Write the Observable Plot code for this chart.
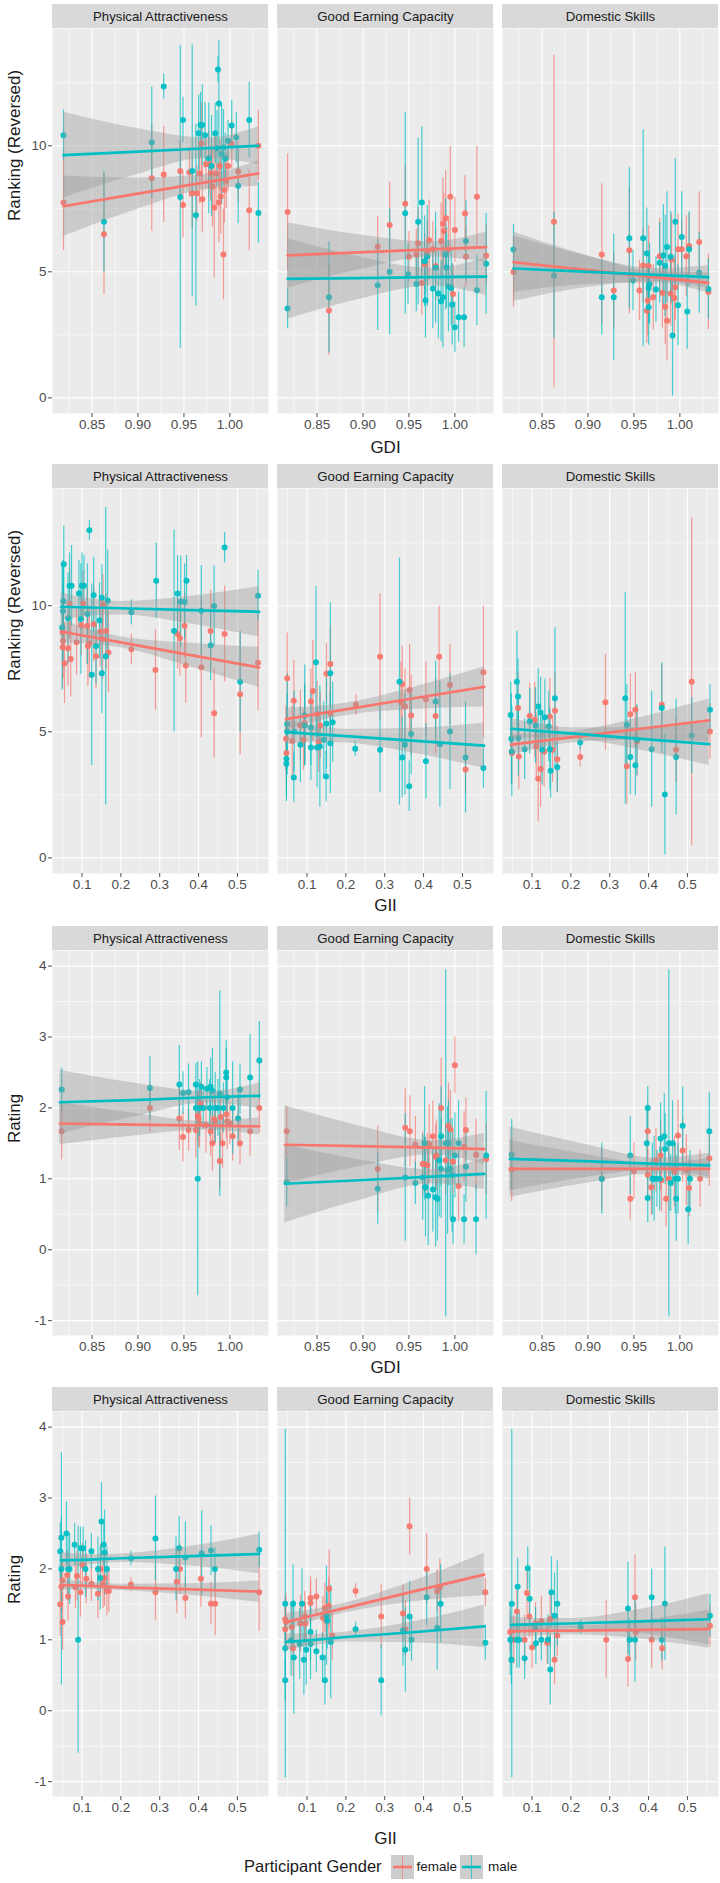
<!DOCTYPE html>
<html><head><meta charset="utf-8">
<script src="https://cdn.jsdelivr.net/npm/d3@7"></script>
<script src="https://cdn.jsdelivr.net/npm/@observablehq/plot@0.6"></script>
<style>
body{margin:0;background:#fff;font-family:"Liberation Sans",Arial,sans-serif;}
#root{width:720px;}
#root svg{display:block;overflow:visible;}
#legend{display:flex;align-items:center;height:33px;padding-left:244px;color:#1a1a1a;}
</style></head><body><div id="root"></div>
<script>
// ---------- categories & ticks ----------
const traits = ["Physical Attractiveness", "Good Earning Capacity", "Domestic Skills"];
const genders = ["female", "male"];
const genderColors = ["#F8766D", "#00BFC4"];
const gdiTicks = [0.85, 0.90, 0.95, 1.00];
const gdiMinor = [0.825, 0.875, 0.925, 0.975, 1.025];
const giiTicks = [0.1, 0.2, 0.3, 0.4, 0.5];
const giiMinor = [0.05, 0.15, 0.25, 0.35, 0.45, 0.55];
const rankTicks = [0, 5, 10];
const rankMinor = [2.5, 7.5, 12.5];
const ratingTicks = [-1, 0, 1, 2, 3, 4];
const ratingMinor = [-0.5, 0.5, 1.5, 2.5, 3.5];
const gdiDomain = [0.807, 1.042];
const giiDomain = [0.024, 0.58];
const rankDomain = [-0.62, 14.65];
const ratingDomain = [-1.21, 4.22];

// ---------- country means [x, y, errorbar half-length] ----------
// Row 1: GDI vs Ranking
const r1PA_f = [[0.819,7.75,1.9],[0.863,6.49,2.4],[0.915,8.71,2.1],[0.928,8.86,1.9],[0.946,9.0,1.2],[0.949,7.65,1.3],[0.956,8.95,1.0],[0.959,8.12,1.4],[0.964,8.12,1.1],[0.967,8.9,1.2],[0.969,10.09,1.6],[0.970,7.88,1.3],[0.974,9.27,1.0],[0.977,9.27,1.3],[0.979,8.9,1.1],[0.981,8.38,1.6],[0.983,7.55,2.8],[0.985,8.9,1.5],[0.988,7.75,1.6],[0.989,9.2,1.0],[0.990,7.99,1.5],[0.993,5.69,1.8],[0.994,8.24,1.3],[0.996,8.6,1.1],[0.998,9.2,1.0],[1.002,10.07,1.0],[1.009,8.98,1.2],[1.021,7.44,1.6],[1.031,10.0,1.4]];
const r1PA_m = [[0.819,10.42,1.0],[0.863,6.99,2.0],[0.915,10.13,2.2],[0.928,12.35,0.5],[0.946,7.97,6.0],[0.949,11.02,0.9],[0.959,9.0,5.0],[0.963,7.24,3.6],[0.966,10.5,1.5],[0.968,10.82,1.3],[0.970,10.82,1.6],[0.973,10.42,1.3],[0.977,9.5,2.2],[0.980,9.2,2.0],[0.984,10.5,1.2],[0.986,9.9,1.5],[0.987,13.02,0.5],[0.988,11.68,2.5],[0.991,9.67,2.0],[0.993,9.93,1.5],[0.995,9.5,1.0],[0.998,10.2,0.8],[1.002,10.8,1.0],[1.007,10.33,1.0],[1.009,8.41,1.5],[1.021,11.02,1.5],[1.031,7.33,1.2]];
const r1GEC_f = [[0.818,7.37,2.3],[0.863,3.47,1.8],[0.916,5.99,1.2],[0.929,6.86,1.7],[0.946,7.7,1.5],[0.950,5.6,1.0],[0.958,5.69,1.0],[0.960,6.13,1.4],[0.964,4.56,1.3],[0.967,5.29,1.2],[0.970,5.8,1.3],[0.972,6.25,1.6],[0.976,5.89,1.1],[0.979,5.23,1.4],[0.985,6.22,1.5],[0.987,6.91,1.8],[0.988,6.62,1.5],[0.990,7.12,1.9],[0.993,5.89,1.3],[0.995,7.98,2.0],[0.998,4.12,1.2],[1.000,6.66,1.3],[1.011,7.31,1.5],[1.012,5.6,1.2],[1.024,7.98,2.0],[1.034,5.65,1.2]];
const r1GEC_m = [[0.818,3.54,0.8],[0.863,3.99,2.2],[0.916,4.47,1.8],[0.929,5.0,2.5],[0.946,7.32,4.0],[0.949,4.9,1.2],[0.958,4.52,1.1],[0.960,6.99,3.3],[0.964,7.75,3.0],[0.967,5.42,1.8],[0.968,3.86,1.5],[0.970,5.62,2.0],[0.976,4.34,1.6],[0.979,5.16,2.2],[0.982,4.14,1.8],[0.985,3.83,1.6],[0.987,3.99,2.0],[0.990,5.69,2.2],[0.991,5.16,1.6],[0.993,4.43,1.8],[0.996,4.36,1.5],[0.997,3.7,1.6],[1.000,2.8,1.0],[1.004,3.2,1.0],[1.010,3.2,1.2],[1.012,6.22,1.6],[1.024,4.27,1.4],[1.034,5.32,2.0]];
const r1DS_f = [[0.819,4.99,1.4],[0.863,6.99,6.6],[0.915,5.69,2.8],[0.928,4.26,1.5],[0.945,5.85,2.5],[0.956,4.26,1.2],[0.960,5.25,1.5],[0.964,3.46,1.3],[0.965,3.86,1.4],[0.966,5.23,1.6],[0.971,3.99,1.3],[0.978,5.62,1.5],[0.981,4.16,1.4],[0.984,3.61,1.5],[0.986,3.06,1.6],[0.990,4.14,1.3],[0.991,5.49,1.8],[0.994,3.96,1.5],[0.995,4.39,1.3],[0.998,5.89,1.4],[1.002,5.89,1.2],[1.007,5.62,1.6],[1.010,6.02,1.3],[1.021,6.18,2.0],[1.031,4.2,1.5]];
const r1DS_m = [[0.819,5.88,1.0],[0.863,4.85,2.5],[0.915,3.99,1.5],[0.928,3.99,2.5],[0.945,6.33,2.8],[0.949,4.66,1.2],[0.960,6.33,4.3],[0.964,5.73,1.8],[0.966,4.36,1.4],[0.966,3.59,1.5],[0.967,4.52,1.6],[0.974,4.3,1.3],[0.978,5.36,1.6],[0.982,5.66,2.0],[0.984,5.23,2.0],[0.986,5.98,2.2],[0.990,5.6,1.8],[0.992,2.47,2.4],[0.995,6.99,2.5],[0.998,3.67,1.6],[1.002,6.38,1.8],[1.008,3.43,1.5],[1.010,5.89,1.5],[1.021,4.96,1.6],[1.031,4.32,1.2]];
// Row 2: GII vs Ranking
const r2PA_f = [[0.050,8.94,1.8],[0.051,8.6,1.5],[0.050,8.35,1.6],[0.055,7.72,1.6],[0.064,8.31,1.5],[0.071,7.89,1.5],[0.068,10.07,1.4],[0.086,8.55,1.3],[0.098,9.23,1.2],[0.103,10.09,1.3],[0.113,9.2,1.5],[0.115,8.4,1.6],[0.119,8.51,1.4],[0.130,9.27,1.5],[0.136,8.0,1.3],[0.147,8.97,1.4],[0.153,8.68,1.6],[0.154,10.03,1.2],[0.162,9.0,1.5],[0.168,8.15,1.6],[0.227,8.27,0.6],[0.289,7.45,1.6],[0.346,8.88,1.4],[0.352,8.71,1.5],[0.364,9.21,1.3],[0.367,7.63,1.5],[0.407,7.56,2.8],[0.431,9.0,1.6],[0.440,5.74,1.8],[0.467,8.88,1.9],[0.507,6.49,2.4],[0.553,7.74,1.9]];
const r2PA_m = [[0.052,10.18,1.4],[0.053,11.65,1.5],[0.051,9.79,2.0],[0.049,9.14,2.5],[0.064,9.5,1.8],[0.068,10.79,1.3],[0.073,10.79,1.6],[0.092,10.49,1.3],[0.097,9.47,2.2],[0.100,10.79,1.3],[0.105,10.79,1.2],[0.114,9.67,2.0],[0.119,12.99,0.4],[0.125,7.26,3.6],[0.130,10.42,1.5],[0.136,8.4,1.5],[0.145,9.41,1.5],[0.151,10.32,1.3],[0.151,7.32,1.6],[0.161,8.0,5.9],[0.166,10.2,2.0],[0.227,9.74,0.5],[0.291,10.99,1.5],[0.337,9.0,4.0],[0.346,10.49,1.5],[0.354,10.16,1.8],[0.364,10.16,1.5],[0.369,10.99,1.0],[0.407,9.8,1.8],[0.431,8.42,1.4],[0.440,9.99,1.6],[0.467,12.31,0.6],[0.507,6.99,2.0],[0.553,10.4,1.0]];
const r2GEC_f = [[0.049,7.12,1.8],[0.046,4.72,1.3],[0.047,4.16,1.2],[0.066,6.23,1.6],[0.062,4.64,1.4],[0.083,5.25,1.4],[0.091,4.68,1.2],[0.094,5.34,1.6],[0.110,6.2,1.3],[0.115,6.62,2.0],[0.126,5.7,1.3],[0.130,4.59,1.2],[0.134,5.25,1.3],[0.150,7.3,1.2],[0.160,7.69,1.5],[0.160,5.74,1.2],[0.226,6.07,0.4],[0.288,7.98,2.5],[0.342,6.17,1.6],[0.345,6.89,1.5],[0.352,6.0,1.5],[0.364,6.66,1.8],[0.368,5.65,1.6],[0.406,6.29,1.5],[0.431,5.63,1.5],[0.440,7.98,2.0],[0.468,6.86,1.6],[0.508,3.5,1.0],[0.554,7.36,2.6]];
const r2GEC_m = [[0.047,3.93,1.5],[0.047,3.73,1.5],[0.049,5.3,2.0],[0.049,5.01,1.5],[0.066,3.19,1.0],[0.067,5.01,1.6],[0.083,4.49,1.5],[0.094,5.65,2.0],[0.094,5.25,1.6],[0.110,4.38,1.3],[0.110,5.17,1.5],[0.123,7.76,3.0],[0.126,4.38,1.6],[0.133,4.42,2.4],[0.143,4.68,1.5],[0.149,3.23,1.0],[0.150,5.32,1.8],[0.160,7.32,2.8],[0.160,4.55,2.0],[0.166,5.38,1.6],[0.224,4.33,0.3],[0.288,4.29,1.7],[0.338,6.99,4.9],[0.345,3.98,1.6],[0.352,4.49,2.0],[0.363,2.84,1.0],[0.368,4.91,1.6],[0.406,3.83,1.5],[0.431,6.2,1.6],[0.442,4.51,2.5],[0.468,5.01,2.3],[0.508,3.98,2.2],[0.554,3.56,0.8]];
const r2DS_f = [[0.048,4.16,1.2],[0.064,5.94,1.4],[0.066,4.02,1.3],[0.094,5.63,1.3],[0.107,5.47,1.5],[0.111,4.42,1.3],[0.116,3.14,1.7],[0.122,3.52,1.5],[0.131,4.22,1.4],[0.146,5.61,1.5],[0.153,4.29,1.3],[0.159,5.84,1.5],[0.165,3.91,1.3],[0.224,4.0,0.4],[0.289,6.17,1.9],[0.344,3.63,1.5],[0.353,5.7,1.6],[0.366,5.87,1.5],[0.370,4.62,1.4],[0.434,6.07,1.6],[0.471,4.29,1.3],[0.511,6.99,6.5],[0.558,5.01,1.1]];
const r2DS_m = [[0.045,5.67,1.3],[0.047,4.72,1.8],[0.048,4.22,1.8],[0.061,6.99,2.0],[0.064,6.4,1.5],[0.065,4.75,1.5],[0.081,4.31,1.2],[0.094,5.41,1.3],[0.109,5.25,1.5],[0.116,6.0,1.5],[0.122,5.77,1.4],[0.126,4.29,1.4],[0.133,5.58,1.5],[0.143,5.21,1.4],[0.146,4.31,1.6],[0.148,3.46,1.1],[0.159,6.33,2.8],[0.165,3.59,1.0],[0.224,4.58,0.3],[0.340,6.33,4.2],[0.344,5.28,1.6],[0.353,4.0,1.5],[0.366,3.67,1.2],[0.370,4.68,1.4],[0.408,4.31,2.3],[0.434,5.94,1.8],[0.442,2.51,2.4],[0.471,4.0,2.3],[0.511,4.85,1.5],[0.558,5.87,1.0]];
// Row 3: GDI vs Rating
const r3PA_f = [[0.817,1.67,0.4],[0.913,2.0,0.35],[0.945,1.85,0.45],[0.949,1.59,0.35],[0.955,1.69,0.3],[0.963,1.69,0.4],[0.965,1.89,0.35],[0.966,1.85,0.4],[0.967,1.78,0.35],[0.968,2.06,0.3],[0.974,1.76,0.4],[0.979,1.67,0.35],[0.981,1.5,0.4],[0.983,1.84,0.35],[0.984,1.81,0.3],[0.989,1.25,0.4],[0.990,1.87,0.35],[0.992,1.5,0.35],[0.996,1.91,0.35],[0.997,1.81,0.4],[1.000,1.78,0.3],[1.003,1.6,0.35],[1.009,1.85,0.3],[1.011,1.5,0.3],[1.022,1.67,0.35],[1.032,2.0,0.35]];
const r3PA_m = [[0.817,2.26,0.3],[0.913,2.28,0.45],[0.945,2.33,0.55],[0.949,2.21,0.3],[0.955,2.22,0.4],[0.963,2.33,0.3],[0.963,2.0,0.35],[0.965,1.0,1.65],[0.967,2.0,0.4],[0.969,2.3,0.35],[0.971,2.0,0.3],[0.975,2.27,0.3],[0.978,2.0,0.4],[0.979,2.3,0.4],[0.981,2.24,0.6],[0.984,2.0,0.5],[0.987,2.0,0.4],[0.989,2.2,1.45],[0.993,2.0,0.35],[0.996,2.5,0.45],[0.996,2.43,0.4],[0.997,2.15,0.35],[1.003,2.0,0.65],[1.009,1.85,0.4],[1.011,2.26,0.35],[1.022,2.43,0.6],[1.032,2.67,0.55]];
const r3GEC_f = [[0.817,1.67,0.35],[0.916,1.14,0.6],[0.946,1.72,0.55],[0.951,1.67,0.5],[0.957,1.48,0.4],[0.965,1.21,0.45],[0.967,1.21,0.4],[0.970,1.19,0.45],[0.972,1.49,0.55],[0.976,1.6,0.5],[0.979,1.31,0.45],[0.980,1.33,0.5],[0.985,2.0,0.7],[0.990,1.26,0.5],[0.993,1.75,0.6],[0.995,1.7,0.55],[0.998,1.24,0.45],[1.000,2.6,0.4],[1.004,0.9,0.5],[1.010,1.45,0.5],[1.012,1.69,0.45],[1.023,1.34,0.5],[1.034,1.28,0.5]];
const r3GEC_m = [[0.817,0.95,0.35],[0.916,0.86,0.5],[0.946,1.02,0.9],[0.957,0.94,0.3],[0.965,1.02,0.6],[0.967,1.5,0.8],[0.968,0.88,0.7],[0.971,0.76,0.7],[0.976,0.85,0.6],[0.979,0.74,0.7],[0.981,0.72,0.6],[0.983,1.26,0.8],[0.985,1.6,0.7],[0.985,1.14,0.7],[0.990,1.5,2.45],[0.992,1.12,0.9],[0.993,1.5,0.6],[0.995,1.14,0.7],[0.997,1.05,0.8],[0.998,0.43,0.35],[1.000,1.33,0.6],[1.004,1.5,0.6],[1.010,0.43,0.35],[1.012,1.17,0.5],[1.023,0.43,0.5],[1.034,1.33,0.9]];
const r3DS_f = [[0.817,1.13,0.45],[0.915,1.0,0.45],[0.946,0.72,0.3],[0.950,1.11,0.4],[0.965,1.67,0.4],[0.965,1.06,0.35],[0.969,0.88,0.4],[0.974,1.26,0.45],[0.979,1.33,0.5],[0.980,0.98,0.45],[0.985,0.72,0.4],[0.988,1.0,0.45],[0.994,1.1,0.5],[0.998,1.61,0.5],[1.003,1.4,0.45],[1.007,1.12,0.5],[1.010,0.87,0.4],[1.022,1.0,0.4],[1.032,1.29,0.4]];
const r3DS_m = [[0.817,1.34,0.5],[0.915,1.0,0.5],[0.946,1.33,0.55],[0.964,1.5,0.5],[0.965,0.73,0.35],[0.965,2.0,0.3],[0.970,1.0,0.5],[0.972,1.0,0.6],[0.975,1.0,0.4],[0.978,1.0,0.45],[0.979,1.57,0.5],[0.983,1.6,0.6],[0.984,1.42,0.5],[0.988,1.5,2.45],[0.990,0.94,0.4],[0.992,1.5,0.6],[0.995,1.0,0.5],[0.996,0.72,0.6],[0.998,1.0,0.5],[1.003,1.75,0.55],[1.009,0.57,0.5],[1.011,1.0,0.4],[1.032,1.67,0.55]];
// Row 4: GII vs Rating
const r4PA_f = [[0.044,1.5,0.45],[0.050,1.25,0.4],[0.047,1.75,0.35],[0.050,1.84,0.3],[0.062,1.91,0.35],[0.064,1.61,0.35],[0.083,1.74,0.3],[0.087,1.9,0.35],[0.096,1.67,0.35],[0.101,2.06,0.3],[0.111,1.86,0.35],[0.124,1.79,0.25],[0.141,1.65,0.35],[0.148,2.0,0.35],[0.154,1.79,0.35],[0.158,1.87,0.4],[0.164,1.69,0.35],[0.169,1.69,0.3],[0.226,1.78,0.1],[0.289,1.67,0.4],[0.344,1.82,0.45],[0.352,2.0,0.35],[0.366,1.59,0.3],[0.406,1.86,0.4],[0.432,1.51,0.3],[0.443,1.51,0.45],[0.556,1.67,0.55]];
const r4PA_m = [[0.044,2.25,0.4],[0.047,2.44,0.3],[0.047,2.0,1.64],[0.060,2.5,0.45],[0.064,2.0,0.45],[0.068,2.0,0.5],[0.081,2.34,0.3],[0.090,1.0,1.6],[0.096,2.29,0.3],[0.103,2.29,0.3],[0.109,2.0,0.4],[0.124,2.25,0.25],[0.141,2.0,0.45],[0.147,1.87,0.45],[0.150,2.67,0.55],[0.156,2.34,0.3],[0.158,2.23,0.6],[0.164,2.0,0.3],[0.226,2.15,0.1],[0.289,2.43,0.6],[0.342,2.0,0.45],[0.350,2.29,0.45],[0.366,2.16,0.5],[0.408,2.22,0.6],[0.432,2.26,0.35],[0.442,2.0,0.3],[0.556,2.27,0.25]];
const r4GEC_f = [[0.044,1.29,0.3],[0.044,1.15,0.35],[0.046,1.25,0.4],[0.061,1.18,0.35],[0.064,0.88,0.4],[0.083,1.23,0.4],[0.094,1.33,0.35],[0.096,1.23,0.3],[0.109,1.59,0.3],[0.109,1.52,0.3],[0.124,1.61,0.25],[0.141,1.31,0.3],[0.146,1.45,0.35],[0.150,1.27,0.3],[0.156,1.48,0.4],[0.157,1.72,0.55],[0.165,1.06,0.35],[0.225,1.69,0.1],[0.291,1.33,0.45],[0.347,1.37,0.4],[0.353,1.15,0.4],[0.364,2.6,0.4],[0.408,2.0,0.5],[0.435,1.69,0.3],[0.442,1.74,0.4],[0.559,1.67,0.2]];
const r4GEC_m = [[0.044,1.51,2.46],[0.044,0.43,0.3],[0.044,0.88,0.4],[0.059,0.99,0.5],[0.064,1.51,0.55],[0.066,0.75,0.8],[0.081,0.94,0.5],[0.087,1.51,0.5],[0.092,0.72,0.5],[0.098,0.86,0.5],[0.109,1.11,0.4],[0.109,0.94,0.5],[0.124,0.84,0.3],[0.140,0.75,0.35],[0.146,0.43,0.35],[0.150,1.34,0.7],[0.152,1.27,0.4],[0.161,0.97,0.8],[0.225,1.15,0.1],[0.291,0.43,0.5],[0.347,1.13,0.5],[0.353,0.86,0.6],[0.364,1.33,0.5],[0.369,1.0,0.3],[0.408,1.6,0.4],[0.435,1.17,0.6],[0.444,1.51,0.55],[0.559,0.96,0.25]];
const r4DS_f = [[0.044,1.11,0.3],[0.053,1.0,0.35],[0.061,1.4,0.3],[0.087,1.66,0.3],[0.093,1.33,0.3],[0.081,1.0,0.35],[0.100,0.89,0.3],[0.109,1.23,0.3],[0.124,1.26,0.35],[0.139,0.96,0.3],[0.147,1.29,0.4],[0.158,0.72,0.35],[0.165,1.06,0.3],[0.291,1.0,0.55],[0.347,0.73,0.4],[0.365,1.6,0.6],[0.367,1.11,0.4],[0.408,1.0,0.4],[0.435,0.88,0.3],[0.558,1.2,0.3]];
const r4DS_m = [[0.044,1.0,0.5],[0.047,0.72,0.35],[0.048,1.51,2.46],[0.063,1.75,0.4],[0.061,1.0,0.4],[0.067,1.0,0.4],[0.089,2.01,0.3],[0.094,1.58,0.4],[0.081,0.74,0.3],[0.109,1.16,0.3],[0.110,0.95,0.3],[0.124,1.0,0.3],[0.141,1.0,0.35],[0.147,0.58,0.5],[0.150,1.67,0.5],[0.158,1.34,0.6],[0.165,1.51,0.6],[0.225,1.18,0.1],[0.347,1.44,0.65],[0.351,1.0,0.3],[0.365,1.0,0.6],[0.408,1.6,0.4],[0.434,1.0,0.3],[0.442,1.51,0.8],[0.558,1.34,0.3]];

// ---------- fitted lines [x, fitted y, band half-width] ----------
const f1PA_f = [[0.819,7.6,1.2],[0.895,8.07,0.65],[0.975,8.56,0.3],[1.031,8.9,0.5]];
const f1PA_m = [[0.819,9.63,1.7],[0.895,9.76,0.95],[0.975,9.9,0.4],[1.031,10.0,0.75]];
const f1GEC_f = [[0.818,5.65,1.3],[0.895,5.77,0.7],[0.975,5.89,0.3],[1.034,5.98,0.6]];
const f1GEC_m = [[0.818,4.72,1.6],[0.895,4.75,0.85],[0.975,4.79,0.35],[1.034,4.81,0.75]];
const f1DS_f = [[0.819,5.38,1.2],[0.895,5.09,0.6],[0.975,4.78,0.22],[1.031,4.56,0.4]];
const f1DS_m = [[0.819,5.13,1.3],[0.895,5.01,0.65],[0.975,4.88,0.25],[1.031,4.79,0.45]];
const f2PA_f = [[0.046,8.98,0.45],[0.12,8.77,0.3],[0.2,8.55,0.22],[0.38,8.04,0.47],[0.556,7.55,0.8]];
const f2PA_m = [[0.046,9.96,0.55],[0.12,9.93,0.35],[0.2,9.9,0.27],[0.38,9.83,0.55],[0.556,9.76,1.0]];
const f2GEC_f = [[0.046,5.5,0.45],[0.12,5.69,0.3],[0.2,5.89,0.25],[0.38,6.34,0.45],[0.556,6.78,0.8]];
const f2GEC_m = [[0.046,4.99,0.5],[0.12,4.91,0.32],[0.2,4.83,0.27],[0.38,4.64,0.5],[0.556,4.45,0.9]];
const f2DS_f = [[0.046,4.49,0.4],[0.12,4.63,0.28],[0.2,4.78,0.22],[0.38,5.12,0.45],[0.556,5.45,0.85]];
const f2DS_m = [[0.046,5.12,0.4],[0.12,5.03,0.28],[0.2,4.94,0.22],[0.38,4.72,0.45],[0.556,4.51,0.85]];
const f3PA_f = [[0.815,1.78,0.3],[0.895,1.765,0.16],[0.975,1.75,0.06],[1.032,1.74,0.12]];
const f3PA_m = [[0.815,2.08,0.45],[0.895,2.11,0.24],[0.975,2.15,0.08],[1.032,2.17,0.18]];
const f3GEC_f = [[0.815,1.48,0.55],[0.895,1.46,0.29],[0.975,1.44,0.1],[1.032,1.42,0.22]];
const f3GEC_m = [[0.815,0.93,0.55],[0.895,0.98,0.29],[0.975,1.03,0.1],[1.032,1.07,0.22]];
const f3DS_f = [[0.815,1.14,0.4],[0.895,1.14,0.21],[0.975,1.14,0.07],[1.032,1.14,0.15]];
const f3DS_m = [[0.815,1.28,0.45],[0.895,1.25,0.24],[0.975,1.21,0.08],[1.032,1.19,0.17]];
const f4PA_f = [[0.046,1.77,0.07],[0.12,1.76,0.05],[0.2,1.74,0.045],[0.38,1.71,0.08],[0.556,1.68,0.15]];
const f4PA_m = [[0.046,2.12,0.11],[0.12,2.13,0.07],[0.2,2.15,0.06],[0.38,2.18,0.14],[0.556,2.21,0.28]];
const f4GEC_f = [[0.046,1.25,0.12],[0.12,1.35,0.08],[0.2,1.45,0.07],[0.38,1.69,0.15],[0.556,1.92,0.3]];
const f4GEC_m = [[0.046,0.97,0.12],[0.12,1.0,0.08],[0.2,1.04,0.07],[0.38,1.11,0.15],[0.556,1.19,0.3]];
const f4DS_f = [[0.046,1.12,0.1],[0.12,1.13,0.07],[0.2,1.13,0.06],[0.38,1.14,0.13],[0.556,1.15,0.27]];
const f4DS_m = [[0.046,1.21,0.12],[0.12,1.22,0.08],[0.2,1.23,0.07],[0.38,1.26,0.17],[0.556,1.29,0.36]];

// ---------- build ----------
const fmtGdi = d3.format(".2f"), fmtGii = d3.format(".1f");
const rows = [
  {xLabel: "GDI", yLabel: "Ranking (Reversed)", xDomain: gdiDomain, yDomain: rankDomain, xTicks: gdiTicks, xMinor: gdiMinor, xFmt: fmtGdi, yTicks: rankTicks, yMinor: rankMinor,
   points: [[r1PA_f, r1PA_m], [r1GEC_f, r1GEC_m], [r1DS_f, r1DS_m]], fits: [[f1PA_f, f1PA_m], [f1GEC_f, f1GEC_m], [f1DS_f, f1DS_m]], mt: 28, mb: 42, xlabDy: 34},
  {xLabel: "GII", yLabel: "Ranking (Reversed)", xDomain: giiDomain, yDomain: rankDomain, xTicks: giiTicks, xMinor: giiMinor, xFmt: fmtGii, yTicks: rankTicks, yMinor: rankMinor,
   points: [[r2PA_f, r2PA_m], [r2GEC_f, r2GEC_m], [r2DS_f, r2DS_m]], fits: [[f2PA_f, f2PA_m], [f2GEC_f, f2GEC_m], [f2DS_f, f2DS_m]], mt: 33, mb: 39, xlabDy: 32},
  {xLabel: "GDI", yLabel: "Rating", xDomain: gdiDomain, yDomain: ratingDomain, xTicks: gdiTicks, xMinor: gdiMinor, xFmt: fmtGdi, yTicks: ratingTicks, yMinor: ratingMinor,
   points: [[r3PA_f, r3PA_m], [r3GEC_f, r3GEC_m], [r3DS_f, r3DS_m]], fits: [[f3PA_f, f3PA_m], [f3GEC_f, f3GEC_m], [f3DS_f, f3DS_m]], mt: 38, mb: 37, xlabDy: 32},
  {xLabel: "GII", yLabel: "Rating", xDomain: giiDomain, yDomain: ratingDomain, xTicks: giiTicks, xMinor: giiMinor, xFmt: fmtGii, yTicks: ratingTicks, yMinor: ratingMinor,
   points: [[r4PA_f, r4PA_m], [r4GEC_f, r4GEC_m], [r4DS_f, r4DS_m]], fits: [[f4PA_f, f4PA_m], [f4GEC_f, f4GEC_m], [f4DS_f, f4DS_m]], mt: 39, mb: 54, xlabDy: 42}
];

const panelH = 385, stripH = 24;
function buildRow(cfg) {
  const pts = [], fit = [];
  traits.forEach((t, i) => genders.forEach((g, j) => {
    for (const [x, y, e] of cfg.points[i][j]) pts.push({trait: t, gender: g, x, y, lo: y - e, hi: y + e});
    for (const [x, y, h] of cfg.fits[i][j]) fit.push({trait: t, gender: g, x, y, lo: y - h, hi: y + h});
  }));
  const [yb, yt] = cfg.yDomain;
  const k = (yt - yb) / panelH;
  const strips = traits.map(t => ({trait: t, x1: cfg.xDomain[0], x2: cfg.xDomain[1], y1: yt, y2: yt + stripH * k}));
  return Plot.plot({
    width: 720, height: cfg.mt + panelH + cfg.mb,
    marginTop: cfg.mt, marginBottom: cfg.mb, marginLeft: 51, marginRight: 2,
    style: {fontFamily: "'Liberation Sans', Arial, sans-serif", background: "white", overflow: "visible"},
    x: {domain: cfg.xDomain},
    y: {domain: cfg.yDomain},
    fx: {domain: traits, paddingInner: 0.04, paddingOuter: 0, axis: null, label: null},
    color: {domain: genders, range: genderColors},
    marks: [
      Plot.frame({fill: "#ebebeb", stroke: "none"}),
      Plot.rect(strips, {fx: "trait", x1: "x1", x2: "x2", y1: "y1", y2: "y2", fill: "#d9d9d9"}),
      Plot.text(strips, {fx: "trait", x: d => (d.x1 + d.x2) / 2, y: d => (d.y1 + d.y2) / 2, text: "trait", fontSize: 13.2, fill: "#1a1a1a"}),
      Plot.ruleX(cfg.xMinor, {stroke: "white", strokeWidth: 0.55}),
      Plot.ruleY(cfg.yMinor, {stroke: "white", strokeWidth: 0.55}),
      Plot.ruleX(cfg.xTicks, {stroke: "white", strokeWidth: 1.1}),
      Plot.ruleY(cfg.yTicks, {stroke: "white", strokeWidth: 1.1}),
      Plot.ruleX(pts, {fx: "trait", x: "x", y1: "lo", y2: "hi", stroke: "gender", strokeWidth: 1.2, strokeOpacity: 0.7}),
      Plot.dot(pts, {fx: "trait", x: "x", y: "y", fill: "gender", r: 3, fillOpacity: 0.95}),
      Plot.areaY(fit, {fx: "trait", x: "x", y1: "lo", y2: "hi", z: "gender", fill: "#999999", fillOpacity: 0.4, curve: "monotone-x"}),
      Plot.line(fit, {fx: "trait", x: "x", y: "y", stroke: "gender", strokeWidth: 2.7}),
      Plot.axisX({ticks: cfg.xTicks, tickFormat: cfg.xFmt, tickSize: 4, tickPadding: 2, fontSize: 13.5, color: "#4d4d4d", label: null}),
      Plot.axisY({ticks: cfg.yTicks, tickFormat: d => String(d), tickSize: 4, tickPadding: 2, fontSize: 13.5, color: "#4d4d4d", label: null}),
      Plot.text([cfg.xLabel], {fx: () => traits[1], text: d => d, frameAnchor: "bottom", lineAnchor: "middle", dy: cfg.xlabDy, fontSize: 17, fill: "#1a1a1a"}),
      Plot.text([cfg.yLabel], {fx: () => traits[0], text: d => d, frameAnchor: "left", lineAnchor: "middle", rotate: -90, dx: -38, fontSize: 17, fill: "#1a1a1a"})
    ]
  });
}

const root = document.getElementById("root");
for (const cfg of rows) root.appendChild(buildRow(cfg));

// legend
const legend = document.createElement("div");
legend.id = "legend";
const title = document.createElement("span");
title.textContent = "Participant Gender";
title.style.cssText = "font-size:16.5px;margin-right:9px;";
legend.appendChild(title);
genders.forEach((g, i) => {
  const ns = "http://www.w3.org/2000/svg";
  const s = document.createElementNS(ns, "svg");
  s.setAttribute("width", 23); s.setAttribute("height", 24);
  s.innerHTML = `<rect width="23" height="24" fill="#cdcdcd"/><line x1="11.5" x2="11.5" y1="0" y2="24" stroke="${genderColors[i]}" stroke-width="1" stroke-opacity="0.7"/><line x1="2" x2="21" y1="12" y2="12" stroke="${genderColors[i]}" stroke-width="2.6"/>`;
  legend.appendChild(s);
  const lab = document.createElement("span");
  lab.textContent = g;
  lab.style.cssText = `font-size:13.5px;margin:0 ${i === 0 ? 3 : 0}px 0 ${i === 0 ? 3 : 5}px;`;
  legend.appendChild(lab);
});
root.appendChild(legend);
</script>
</body></html>
